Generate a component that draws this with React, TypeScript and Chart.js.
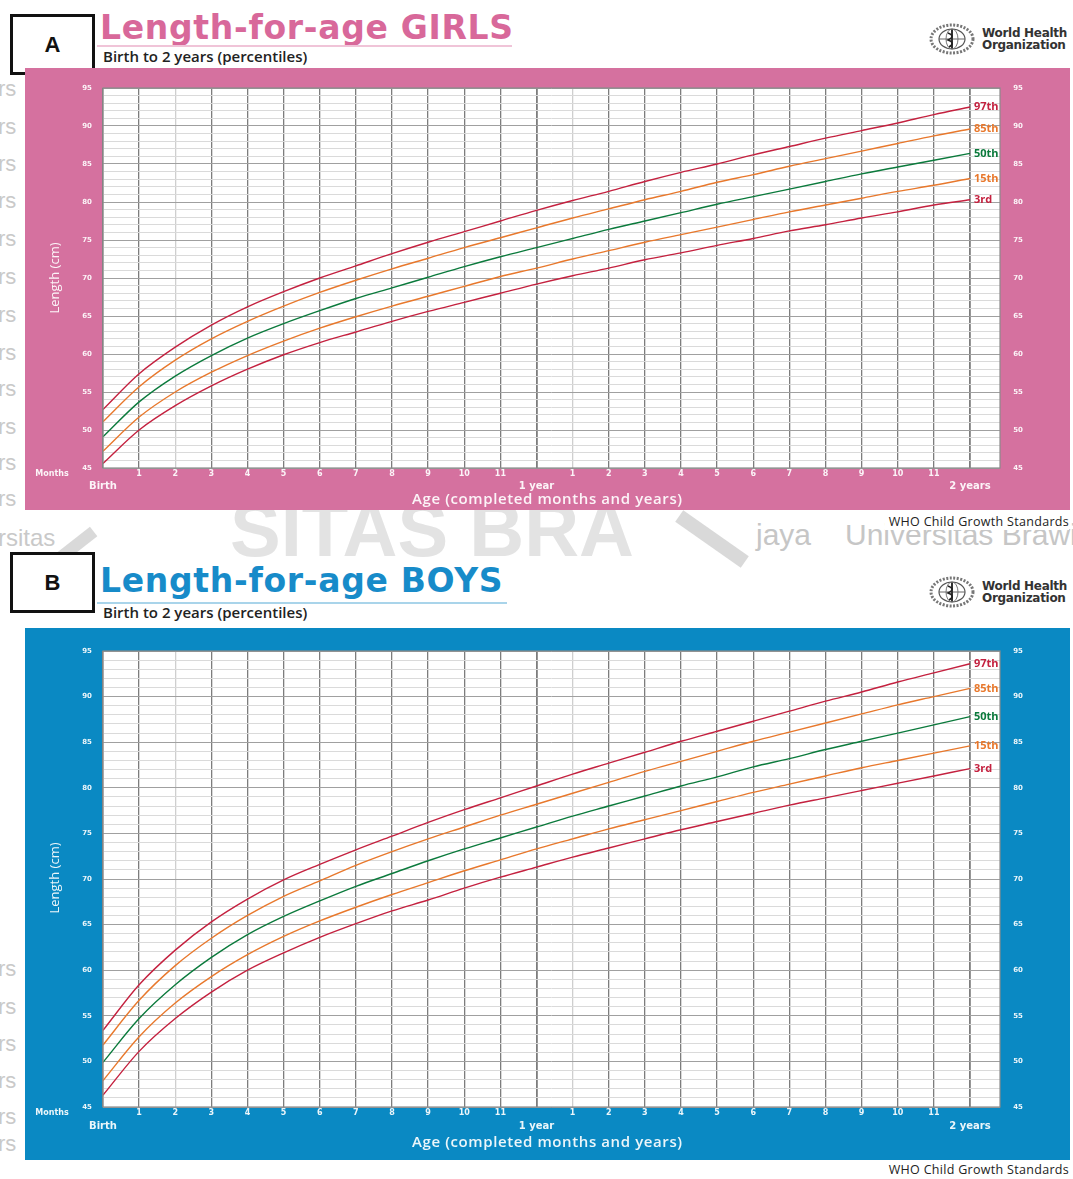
import React, { useEffect, useRef } from "react";
import { Chart, registerables } from "chart.js";

Chart.register(...registerables);

// ---------- DATA ----------
const AGE_MONTHS = [0, 1, 2, 3, 4, 5, 6, 7, 8, 9, 10, 11, 12, 13, 14, 15, 16, 17, 18, 19, 20, 21, 22, 23, 24];
const Y_TICKS = [45, 50, 55, 60, 65, 70, 75, 80, 85, 90, 95];
const MONTH_TICK_LABELS = ["", "1", "2", "3", "4", "5", "6", "7", "8", "9", "10", "11", "", "1", "2", "3", "4", "5", "6", "7", "8", "9", "10", "11", ""];
const PERCENTILE_NAMES = ["97th", "85th", "50th", "15th", "3rd"];

const GIRLS_P97 = [52.7, 57.4, 60.9, 63.8, 66.2, 68.2, 70.0, 71.6, 73.2, 74.7, 76.1, 77.5, 78.9, 80.2, 81.4, 82.7, 83.9, 85.0, 86.2, 87.3, 88.4, 89.4, 90.4, 91.5, 92.5];
const GIRLS_P85 = [51.1, 55.7, 59.2, 62.0, 64.3, 66.3, 68.1, 69.7, 71.2, 72.6, 74.0, 75.3, 76.6, 77.9, 79.1, 80.3, 81.4, 82.6, 83.6, 84.7, 85.7, 86.7, 87.7, 88.7, 89.6];
const GIRLS_P50 = [49.1, 53.7, 57.1, 59.8, 62.1, 64.0, 65.7, 67.3, 68.7, 70.1, 71.5, 72.8, 74.0, 75.2, 76.4, 77.5, 78.6, 79.7, 80.7, 81.7, 82.7, 83.7, 84.6, 85.5, 86.4];
const GIRLS_P15 = [47.2, 51.7, 55.0, 57.6, 59.8, 61.7, 63.4, 64.9, 66.3, 67.6, 68.9, 70.2, 71.3, 72.5, 73.6, 74.7, 75.7, 76.7, 77.7, 78.7, 79.6, 80.5, 81.4, 82.2, 83.1];
const GIRLS_P3 = [45.6, 50.0, 53.2, 55.8, 58.0, 59.9, 61.5, 62.9, 64.3, 65.6, 66.8, 68.0, 69.2, 70.3, 71.3, 72.4, 73.3, 74.3, 75.2, 76.2, 77.0, 77.9, 78.7, 79.6, 80.3];

const BOYS_P97 = [53.4, 58.4, 62.2, 65.3, 67.8, 69.9, 71.6, 73.2, 74.7, 76.2, 77.6, 78.9, 80.2, 81.5, 82.7, 83.9, 85.1, 86.2, 87.3, 88.4, 89.5, 90.5, 91.6, 92.6, 93.6];
const BOYS_P85 = [51.8, 56.7, 60.5, 63.5, 66.0, 68.1, 69.8, 71.5, 73.0, 74.4, 75.7, 77.0, 78.2, 79.4, 80.6, 81.8, 82.9, 84.0, 85.1, 86.1, 87.1, 88.1, 89.1, 90.0, 90.9];
const BOYS_P50 = [49.9, 54.7, 58.4, 61.4, 63.9, 65.9, 67.6, 69.2, 70.6, 72.0, 73.3, 74.5, 75.7, 76.9, 78.0, 79.1, 80.2, 81.2, 82.3, 83.2, 84.2, 85.1, 86.0, 86.9, 87.8];
const BOYS_P15 = [47.9, 52.7, 56.4, 59.3, 61.7, 63.7, 65.4, 66.9, 68.3, 69.6, 70.9, 72.1, 73.3, 74.4, 75.5, 76.5, 77.5, 78.5, 79.5, 80.4, 81.3, 82.2, 83.0, 83.8, 84.6];
const BOYS_P3 = [46.3, 51.1, 54.7, 57.6, 60.0, 61.9, 63.6, 65.1, 66.5, 67.7, 69.0, 70.2, 71.3, 72.4, 73.4, 74.4, 75.4, 76.3, 77.2, 78.1, 78.9, 79.7, 80.5, 81.3, 82.1];

const SERIES_COLORS = ["#c4213f", "#e8782c", "#0b7a3c", "#e8782c", "#c4213f"];

type PanelCfg = {
  top: number;
  height: number;
  bg: string;
  pad: { left: number; right: number; top: number; bottom: number };
  series: number[][];
  numY: number;
  yearY: number;
  titleY: number;
  lenY: number;
};

function Panel({ cfg }: { cfg: PanelCfg }) {
  const ref = useRef<HTMLCanvasElement | null>(null);
  useEffect(() => {
    if (!ref.current) return;
    const textPlugin = {
      id: "decor",
      beforeDraw(chart: any) {
        const { ctx, chartArea: a } = chart;
        ctx.save();
        ctx.fillStyle = cfg.bg;
        ctx.fillRect(0, 0, chart.width, chart.height);
        ctx.fillStyle = "#ffffff";
        ctx.fillRect(a.left, a.top, a.right - a.left, a.bottom - a.top);
        ctx.restore();
      },
      afterDraw(chart: any) {
        const { ctx, chartArea: a } = chart;
        const xs = chart.scales.x;
        const ys = chart.scales.y;
        ctx.save();
        ctx.strokeStyle = "#8a8a8a";
        ctx.lineWidth = 1.2;
        ctx.strokeRect(a.left, a.top, a.right - a.left, a.bottom - a.top);
        ctx.fillStyle = "rgba(255,255,255,0.92)";
        ctx.font = "bold 7px 'DejaVu Sans'";
        ctx.textBaseline = "middle";
        Y_TICKS.forEach((v) => {
          const y = ys.getPixelForValue(v);
          ctx.textAlign = "center";
          ctx.fillText(String(v), a.left - 16, y);
          ctx.fillText(String(v), a.right + 18, y);
        });
        ctx.font = "bold 8px 'DejaVu Sans'";
        AGE_MONTHS.forEach((m, i) => {
          const t = MONTH_TICK_LABELS[i];
          if (!t) return;
          ctx.fillText(t, xs.getPixelForValue(m), a.bottom + cfg.numY);
        });
        ctx.fillText("Months", a.left - 51, a.bottom + cfg.numY);
        ctx.font = "bold 10px 'DejaVu Sans'";
        ctx.fillText("Birth", xs.getPixelForValue(0), a.bottom + cfg.yearY);
        ctx.fillText("1 year", xs.getPixelForValue(12), a.bottom + cfg.yearY);
        ctx.fillText("2 years", xs.getPixelForValue(24), a.bottom + cfg.yearY);
        ctx.font = "600 15px 'Open Sans'";
        (ctx as any).letterSpacing = "0.6px";
        ctx.fillText("Age (completed months and years)", xs.getPixelForValue(12.3), a.bottom + cfg.titleY);
        (ctx as any).letterSpacing = "0px";
        ctx.save();
        ctx.translate(a.left - 48, cfg.lenY);
        ctx.rotate(-Math.PI / 2);
        ctx.font = "13px 'Open Sans'";
        ctx.fillText("Length (cm)", 0, 0);
        ctx.restore();
        ctx.font = "bold 11px 'Open Sans'";
        ctx.textAlign = "left";
        cfg.series.forEach((s, i) => {
          ctx.fillStyle = SERIES_COLORS[i];
          ctx.fillText(PERCENTILE_NAMES[i], xs.getPixelForValue(24) + 4, ys.getPixelForValue(s[s.length - 1]));
        });
        ctx.restore();
      },
    };
    const chart = new Chart(ref.current, {
      type: "line",
      data: {
        labels: AGE_MONTHS,
        datasets: cfg.series.map((s, i) => ({
          label: PERCENTILE_NAMES[i],
          data: s.map((v, j) => ({ x: AGE_MONTHS[j], y: v })),
          borderColor: SERIES_COLORS[i],
          borderWidth: 1.4,
          pointRadius: 0,
          fill: false,
          cubicInterpolationMode: "monotone" as const,
        })),
      },
      options: {
        animation: false,
        responsive: false,
        events: [],
        layout: { padding: cfg.pad },
        plugins: { legend: { display: false }, tooltip: { enabled: false } },
        scales: {
          x: {
            type: "linear",
            min: 0,
            max: 24.83,
            afterFit: (s: any) => { s.height = 0; },
            afterBuildTicks: (s: any) => { s.ticks = AGE_MONTHS.map((v) => ({ value: v })); },
            ticks: { display: false },
            border: { display: false },
            grid: {
              drawTicks: false,
              color: (c: any) => (c.tick && (c.tick.value === 2 || c.tick.value === 13) ? "#cfcfcf" : "#7d7d7d"),
              lineWidth: (c: any) => (c.tick && (c.tick.value === 12 || c.tick.value === 24) ? 1.8 : 1.3),
            },
          },
          y: {
            type: "linear",
            min: 45,
            max: 95,
            afterFit: (s: any) => { s.width = 0; },
            afterBuildTicks: (s: any) => {
              const t: any[] = [];
              for (let v = 45; v <= 95; v++) t.push({ value: v });
              s.ticks = t;
            },
            ticks: { display: false },
            border: { display: false },
            grid: {
              drawTicks: false,
              color: (c: any) => (c.tick && c.tick.value % 5 === 0 ? "#a0a0a0" : "#dadada"),
              lineWidth: 1,
            },
          },
        },
      },
      plugins: [textPlugin],
    } as any);
    return () => chart.destroy();
  }, [cfg]);
  return (
    <canvas
      ref={ref}
      width={1045}
      height={cfg.height}
      style={{ position: "absolute", left: 25, top: cfg.top, width: 1045, height: cfg.height }}
    />
  );
}

const PINK = "#d5719f";
const BLUE = "#0a89c3";

const CFG_A: PanelCfg = {
  top: 68,
  height: 442,
  bg: PINK,
  pad: { left: 78, right: 70, top: 20, bottom: 42 },
  series: [GIRLS_P97, GIRLS_P85, GIRLS_P50, GIRLS_P15, GIRLS_P3],
  numY: 6,
  yearY: 18,
  titleY: 32,
  lenY: 210,
};
const CFG_B: PanelCfg = {
  top: 628,
  height: 532,
  bg: BLUE,
  pad: { left: 78, right: 70, top: 23, bottom: 53 },
  series: [BOYS_P97, BOYS_P85, BOYS_P50, BOYS_P15, BOYS_P3],
  numY: 6,
  yearY: 19,
  titleY: 36,
  lenY: 250,
};

type HeaderCfg = { boxTop: number; titleTop: number; lineTop: number; subTop: number; logoTop: number; title: string; color: string; letter: string; lineColor: string; lineW: number };

const HEAD_A: HeaderCfg = { boxTop: 14, titleTop: 8, lineTop: 45, subTop: 46, logoTop: 23, title: "Length-for-age GIRLS", color: "#d8689a", letter: "A", lineColor: "#f0c4d8", lineW: 415 };
const HEAD_B: HeaderCfg = { boxTop: 552, titleTop: 561, lineTop: 602, subTop: 602, logoTop: 576, title: "Length-for-age BOYS", color: "#178bc9", letter: "B", lineColor: "#a9d4ea", lineW: 410 };

function Emblem({ left, top }: { left: number; top: number }) {
  return (
    <svg style={{ position: "absolute", left, top }} width={46} height={32} viewBox="0 0 46 32">
      <ellipse cx={23} cy={16} rx={21} ry={14} fill="none" stroke="#777" strokeWidth={3} strokeDasharray="2 1.5" />
      <ellipse cx={23} cy={16} rx={13} ry={10} fill="#fff" stroke="#555" strokeWidth={1.2} />
      <line x1={10} y1={16} x2={36} y2={16} stroke="#666" strokeWidth={1} />
      <line x1={23} y1={6} x2={23} y2={26} stroke="#333" strokeWidth={2} />
      <ellipse cx={23} cy={16} rx={6} ry={10} fill="none" stroke="#777" strokeWidth={1} />
      <path d="M19 10 Q27 13 19 17 Q27 20 20 24" fill="none" stroke="#222" strokeWidth={1.5} />
    </svg>
  );
}

function Header({ h }: { h: HeaderCfg }) {
  return (
    <>
      <div style={{ position: "absolute", left: 10, top: h.boxTop, width: 79, height: 55, border: "3px solid #111", background: "#fff", display: "flex", alignItems: "center", justifyContent: "center", font: "bold 22px 'Liberation Sans', Arial, sans-serif", color: "#111" }}>{h.letter}</div>
      <div style={{ position: "absolute", left: 100, top: h.titleTop, font: "bold 33px 'DejaVu Sans'", color: h.color, letterSpacing: 0.7, whiteSpace: "nowrap" }}>{h.title}</div>
      <div style={{ position: "absolute", left: 97, top: h.lineTop, width: h.lineW, height: 2, background: h.lineColor }} />
      <div style={{ position: "absolute", left: 103, top: h.subTop, font: "600 15px 'Open Sans'", color: "#222", whiteSpace: "nowrap" }}>Birth to 2 years (percentiles)</div>
      <Emblem left={929} top={h.logoTop} />
      <div style={{ position: "absolute", left: 982, top: h.logoTop + 4, font: "bold 12px 'DejaVu Sans'", lineHeight: "12px", color: "#333", whiteSpace: "nowrap", letterSpacing: -0.3 }}>
        World Health<br />Organization
      </div>
    </>
  );
}

export default function App() {
  const wm: React.CSSProperties = { position: "absolute", color: "#c9c9c9", font: "22px 'Liberation Sans'", whiteSpace: "nowrap" };
  const leftMarks = [90, 128, 165, 202, 240, 278, 316, 354, 390, 428, 464, 500, 970, 1008, 1045, 1082, 1118, 1145];
  return (
    <div style={{ position: "absolute", left: 0, top: 0, width: 1073, height: 1179, background: "#fff", overflow: "hidden" }}>
      {leftMarks.map((y, i) => (
        <div key={i} style={{ ...wm, left: -2, top: y - 14 }}>rs</div>
      ))}
      <div style={{ ...wm, left: -2, top: 524, font: "24px 'Liberation Sans'" }}>rsitas</div>
      <div style={{ ...wm, left: 756, top: 518, font: "30px 'Liberation Sans'", color: "#c6c6c6" }}>jaya</div>
      <div style={{ ...wm, left: 845, top: 518, font: "30px 'Liberation Sans'", color: "#c6c6c6" }}>Universitas Brawi</div>
      <div style={{ position: "absolute", left: 40, top: 544, width: 60, height: 12, background: "#d9d9d9", transform: "rotate(-38deg)" }} />
      <div style={{ position: "absolute", left: 672, top: 532, width: 80, height: 14, background: "#d9d9d9", transform: "rotate(35deg)" }} />
      <div style={{ ...wm, left: 230, top: 486, font: "bold 76px 'Liberation Sans'", color: "#e3e3e3", letterSpacing: 0 }}>SITAS BRA</div>

      <Header h={HEAD_A} />
      <Panel cfg={CFG_A} />
      <div style={{ position: "absolute", right: 4, top: 513, font: "12.5px 'Open Sans'", letterSpacing: 0.3, color: "#222", background: "#fff", paddingLeft: 4 }}>WHO Child Growth Standards</div>

      <Header h={HEAD_B} />
      <Panel cfg={CFG_B} />
      <div style={{ position: "absolute", right: 4, top: 1161, font: "12.5px 'Open Sans'", letterSpacing: 0.3, color: "#222", background: "#fff", paddingLeft: 4 }}>WHO Child Growth Standards</div>
    </div>
  );
}
